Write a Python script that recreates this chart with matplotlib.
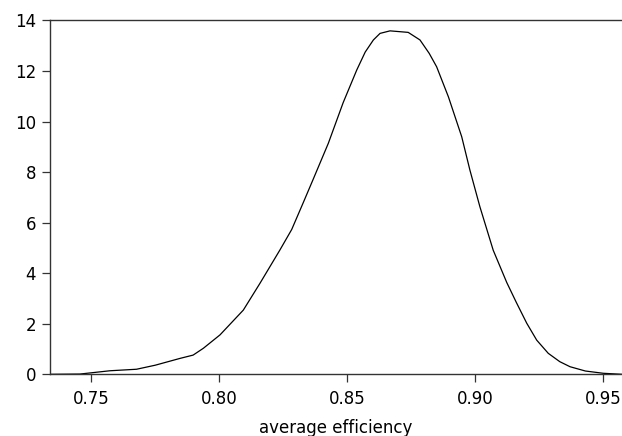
import numpy as np
import matplotlib.pyplot as plt

plt.rcParams['font.family'] = ['DejaVu Sans']

# kernel density of average efficiency
efficiency = [0.7339, 0.7456, 0.7573, 0.7677, 0.7750, 0.7847, 0.7898, 0.7938,
              0.8003, 0.8094, 0.8159, 0.8237, 0.8283, 0.8328, 0.8367, 0.8426,
              0.8484, 0.8537, 0.8570, 0.8602, 0.8628, 0.8667, 0.8738, 0.8784,
              0.8820, 0.8849, 0.8895, 0.8947, 0.8979, 0.9018, 0.9070, 0.9123,
              0.9160, 0.9201, 0.9240, 0.9285, 0.9330, 0.9370, 0.9430, 0.9500,
              0.9573]
density = [0.0, 0.01, 0.14, 0.20, 0.36, 0.63, 0.76, 1.03,
           1.56, 2.54, 3.60, 4.92, 5.73, 6.79, 7.72, 9.14,
           10.75, 12.04, 12.75, 13.23, 13.49, 13.59, 13.53, 13.23,
           12.70, 12.17, 10.98, 9.40, 8.08, 6.63, 4.91, 3.63,
           2.85, 2.02, 1.35, 0.83, 0.50, 0.30, 0.13, 0.04,
           0.0]

xticks = [0.75, 0.80, 0.85, 0.90, 0.95]
yticks = [0, 2, 4, 6, 8, 10, 12, 14]

fig = plt.figure(figsize=(6.22, 4.36), dpi=100)
ax = fig.add_axes([50 / 622, 61.7 / 436, 1 - 50 / 622, 353.8 / 436])
ax.plot(efficiency, density, color='black', lw=0.9)

ax.set_xlim(0.7339, 0.9573)
ax.set_ylim(0, 14)
ax.set_xticks(xticks)
ax.set_xticklabels(['%.2f' % t for t in xticks])
ax.set_yticks(yticks)
ax.tick_params(direction='out', length=6, width=0.9, labelsize=12, color='#333333')
ax.tick_params(axis='x', pad=5)
ax.tick_params(axis='y', pad=4)
ax.spines['right'].set_visible(False)
for s in ['left', 'top', 'bottom']:
    ax.spines[s].set_linewidth(1.0)
    ax.spines[s].set_color('#333333')
ax.set_xlabel('average efficiency', fontsize=12, labelpad=8)

fig.savefig('out.png', dpi=100)
